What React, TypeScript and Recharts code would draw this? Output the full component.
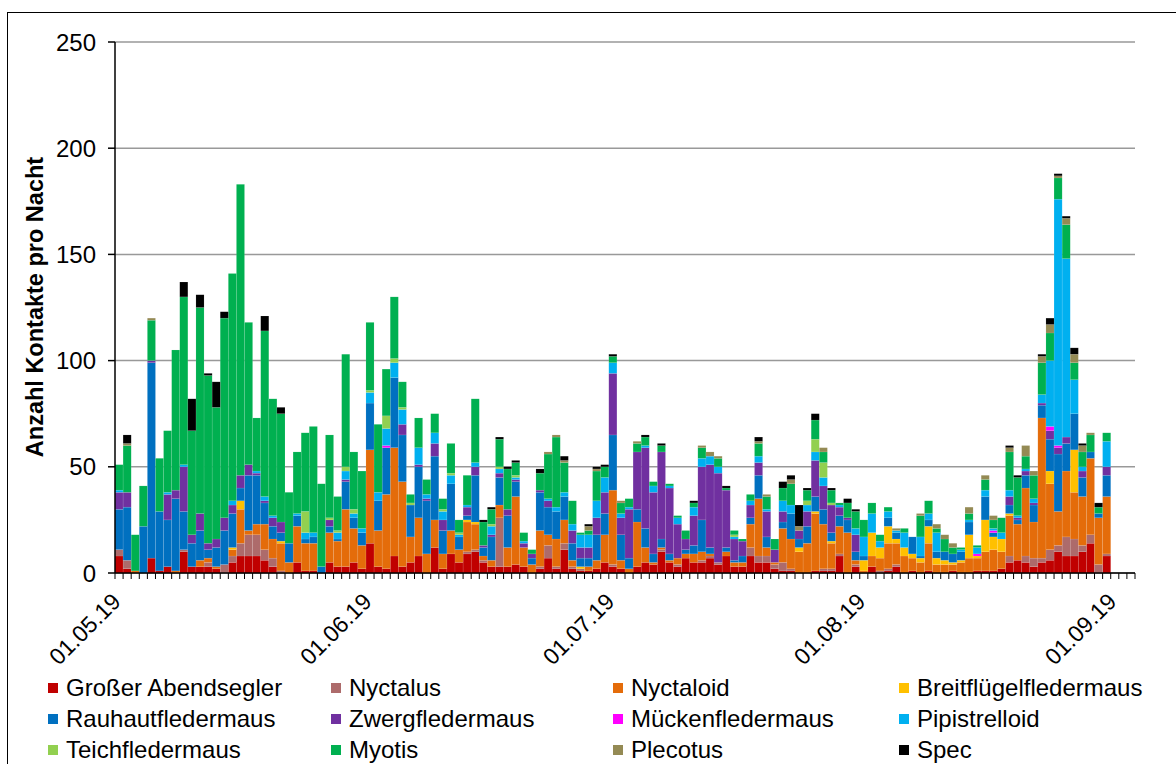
import { BarChart, Bar, XAxis, YAxis, CartesianGrid } from "recharts";

// categories: one bar per night, 01.05.19 – 03.09.19
const MONTHS: [string, number][] = [
  ["05", 31],
  ["06", 30],
  ["07", 31],
  ["08", 31],
  ["09", 3],
];
const DAYS: string[] = MONTHS.flatMap(([m, n]) =>
  Array.from({ length: n }, (_, i) => `${String(i + 1).padStart(2, "0")}.${m}.19`)
);
const MONTH_TICKS = ["01.05.19", "01.06.19", "01.07.19", "01.08.19", "01.09.19"];
const Y_TICKS = [0, 50, 100, 150, 200, 250];

// values per night, index 0 = 01.05.19
const abendsegler = [8,2,0,0,7,1,3,0,10,3, 3,3,2,0,5,8,8,8,6,3, 0,0,5,1,1,0,5,3,3,5, 2,14,3,2,8,3,5,8,0,12, 2,9,5,9,10,5,3,3,3,4, 3,0,2,7,2,11,2,1,1,2, 5,3,2,0,3,5,4,10,5,3, 7,5,5,7,4,8,3,3,8,5, 5,2,1,1,0,0,1,1,1,8, 0,3,0,3,0,1,3,0,1,0, 1,0,0,1,0,0,1,1,1,2, 5,6,5,3,5,6,10,8,8,10, 14,0,8];
const nyctalus = [3,4,0,0,0,0,0,0,1,0, 0,2,0,4,3,6,10,10,5,4, 1,0,0,0,0,0,0,0,0,0, 0,0,0,0,0,0,0,0,0,0, 0,0,0,1,1,1,0,23,0,0, 0,0,1,6,1,3,1,1,0,0, 0,1,0,0,0,0,0,1,0,1, 0,0,1,1,1,0,0,0,4,3, 3,2,4,1,0,0,0,1,1,1, 0,1,0,0,1,1,1,0,0,0, 0,0,0,0,0,0,0,0,0,0, 3,0,3,4,2,5,3,9,8,3, 4,4,1];
const nyctaloid = [0,0,1,0,0,0,0,1,0,0, 3,2,1,0,3,16,2,5,12,9, 13,5,17,13,13,0,14,12,27,16, 11,44,17,35,51,40,12,18,9,13, 7,11,6,14,12,2,3,6,9,32, 9,4,17,5,13,11,3,0,2,4, 13,35,4,2,21,7,1,1,1,3, 2,4,4,1,0,2,2,2,11,27, 4,1,16,14,10,14,27,21,12,13, 19,2,1,5,6,12,10,8,6,5, 13,4,4,3,5,7,6,9,10,8, 19,17,32,17,66,31,16,31,22,23, 36,22,27];
const breitfluegel = [0,0,0,0,0,0,0,0,0,0, 0,0,0,0,1,4,0,0,0,0, 1,0,0,0,0,0,0,0,0,0, 0,0,0,0,0,0,0,0,0,0, 0,0,0,1,1,0,0,0,0,0, 0,0,0,0,0,0,0,1,0,0, 0,0,0,0,0,0,0,0,0,0, 0,0,0,0,0,0,0,0,0,0, 0,0,0,0,2,0,1,0,1,0, 0,0,5,11,5,8,2,4,2,2, 8,3,2,1,1,11,1,15,6,6, 1,0,0,0,0,6,0,0,20,0, 0,0,0];
const rauhaut = [19,25,0,22,92,28,22,34,18,11, 14,4,9,16,16,6,26,23,10,6, 4,9,5,2,3,3,3,1,13,5, 6,22,14,22,33,22,15,24,25,30, 11,22,6,2,22,4,11,13,15,7, 0,3,18,13,13,11,8,4,4,12, 10,26,12,5,6,9,4,4,3,0, 2,4,15,3,0,2,1,3,3,11, 5,0,3,12,4,8,7,7,4,5, 6,4,2,0,0,4,3,0,8,1, 3,3,4,4,4,6,0,11,2,0, 4,2,6,8,6,15,27,13,17,9, 3,2,10];
const zwerg = [8,7,0,0,1,0,12,4,21,4, 8,3,4,6,4,6,5,1,1,4, 5,0,0,0,0,0,3,0,1,0, 0,0,0,0,0,5,0,1,1,6, 5,0,0,4,4,1,1,2,3,1, 2,2,1,3,0,0,6,5,5,8, 10,29,8,23,27,38,29,41,31,16, 5,14,25,39,42,27,10,7,6,6, 12,6,5,0,4,7,17,11,13,4, 1,8,0,0,0,0,0,0,0,0, 0,0,0,0,0,0,0,0,0,0, 4,1,2,1,1,4,3,3,0,3, 0,0,4];
const muecken = [0,0,0,0,0,0,0,0,0,0, 0,0,0,0,0,0,0,0,0,0, 0,0,0,0,0,0,0,0,0,0, 0,0,0,1,0,0,0,0,0,0, 0,0,0,0,0,0,0,0,0,0, 0,0,0,0,0,0,0,0,0,0, 0,0,0,0,0,0,0,0,0,0, 0,0,0,0,0,0,0,0,0,0, 0,0,0,0,0,0,0,0,0,0, 0,0,0,0,0,0,0,0,0,0, 0,0,0,0,0,0,1,0,1,0, 0,0,0,0,0,2,1,0,0,0, 0,0,0];
const pipistrelloid = [1,0,0,0,0,0,1,0,1,0, 0,0,0,0,2,0,0,1,2,1, 0,0,1,3,2,0,0,3,4,2, 2,5,4,8,7,7,0,8,2,5, 4,4,1,1,2,0,4,2,0,1, 1,0,0,1,2,2,3,6,6,8, 7,5,2,1,0,1,3,0,1,3, 0,4,4,4,3,0,1,0,2,3, 1,0,5,4,0,3,4,4,0,1, 0,3,9,9,3,3,1,7,0,9, 3,9,0,0,1,1,3,3,1,3, 3,1,1,2,4,31,116,84,16,2, 0,0,12];
const teich = [0,0,0,0,0,0,0,0,0,0, 0,0,0,0,0,0,0,0,0,0, 0,0,0,10,0,0,1,1,2,2, 0,1,0,6,2,1,1,0,0,0, 1,1,1,0,0,0,1,1,0,1, 0,0,0,0,0,0,0,0,0,0, 0,0,0,0,0,0,0,0,0,0, 0,0,0,0,0,0,1,0,0,0, 0,0,0,0,0,2,6,7,1,0, 0,0,0,0,0,0,0,0,0,0, 0,0,0,0,0,0,0,0,0,0, 0,0,0,0,0,0,0,0,0,0, 0,0,0];
const myotis = [12,22,17,19,19,25,29,66,79,49, 97,79,62,94,107,137,67,25,78,55, 51,24,29,37,50,39,39,16,53,27, 27,32,32,22,29,12,4,14,7,9, 5,14,6,14,30,11,7,13,19,6, 4,2,8,21,33,14,11,1,2,14, 5,3,5,4,4,4,2,3,1,1, 4,2,5,0,4,1,2,1,3,6, 6,5,6,10,0,5,9,5,6,1, 7,8,8,5,3,2,0,2,0,10, 6,2,6,3,1,3,1,5,4,7, 18,18,6,11,15,13,10,16,8,7, 8,3,4];
const plecotus = [0,1,0,0,1,0,0,0,0,0, 0,0,0,0,0,0,0,0,0,0, 0,0,0,0,0,0,0,0,0,0, 0,0,0,0,0,0,0,0,0,0, 0,0,0,0,0,0,0,0,0,0, 0,0,0,1,1,1,0,0,2,1, 0,0,1,0,1,0,0,0,0,0, 0,0,1,2,1,0,0,0,0,1, 1,0,0,2,2,0,0,2,0,0, 0,0,0,0,0,0,1,0,0,1, 0,2,2,2,0,3,0,2,2,0, 2,0,5,2,3,4,1,3,4,3, 1,0,0];
const spec = [0,4,0,0,0,0,0,0,7,15, 6,1,12,3,0,0,0,0,7,0, 3,0,0,0,0,0,0,0,0,0, 0,0,0,0,0,0,0,0,0,0, 0,0,0,0,0,1,1,1,1,1, 0,0,2,0,0,2,0,0,1,1, 1,1,0,0,0,1,0,1,0,0, 0,1,0,0,0,1,0,0,0,2, 0,0,3,2,10,1,3,0,1,0, 2,1,0,0,0,0,0,0,0,0, 0,0,0,0,0,0,0,0,0,0, 1,1,0,0,1,3,1,1,3,1, 0,2,0];

const SERIES = [
  { key: "abendsegler", name: "Großer Abendsegler", color: "#C00000", values: abendsegler },
  { key: "nyctalus", name: "Nyctalus", color: "#AD6B6B", values: nyctalus },
  { key: "nyctaloid", name: "Nyctaloid", color: "#E46C0A", values: nyctaloid },
  { key: "breitfluegel", name: "Breitflügelfledermaus", color: "#FFC000", values: breitfluegel },
  { key: "rauhaut", name: "Rauhautfledermaus", color: "#0070C0", values: rauhaut },
  { key: "zwerg", name: "Zwergfledermaus", color: "#7030A0", values: zwerg },
  { key: "muecken", name: "Mückenfledermaus", color: "#FF00FF", values: muecken },
  { key: "pipistrelloid", name: "Pipistrelloid", color: "#00B0F0", values: pipistrelloid },
  { key: "teich", name: "Teichfledermaus", color: "#92D050", values: teich },
  { key: "myotis", name: "Myotis", color: "#00B050", values: myotis },
  { key: "plecotus", name: "Plecotus", color: "#948A54", values: plecotus },
  { key: "spec", name: "Spec", color: "#000000", values: spec },
];

const data = DAYS.map((day, i) => {
  const row: Record<string, string | number> = { day };
  SERIES.forEach((s) => {
    row[s.key] = s.values[i] ?? 0;
  });
  return row;
});

const FONT = '"Liberation Sans", Arial, sans-serif';
const W = 1176;
const H = 764;
const PLOT_LEFT = 115;
const PLOT_RIGHT = 1135;
const BAND = (PLOT_RIGHT - PLOT_LEFT) / DAYS.length;

// recharts floors the bar width to whole pixels; stretch each segment to the full band
function BandRect(props: any) {
  const { x, y, height, fill } = props;
  if (!height || height <= 0) return <g />;
  return (
    <rect
      x={x}
      y={y}
      width={BAND}
      height={height}
      fill={fill}
      stroke="#ffffff"
      strokeOpacity={0.18}
      strokeWidth={0.5}
    />
  );
}

function DayTick({ x, y, payload, index }: any) {
  const bx = x - BAND / 2;
  const isMonth = MONTH_TICKS.includes(payload.value);
  const tx = bx + 7;
  const ty = y + 30;
  return (
    <g>
      <line x1={bx} y1={y} x2={bx} y2={y + 6} stroke="#000" strokeWidth={1} />
      {index === DAYS.length - 1 && (
        <line x1={x + BAND / 2} y1={y} x2={x + BAND / 2} y2={y + 6} stroke="#000" strokeWidth={1} />
      )}
      {isMonth && (
        <text
          x={tx}
          y={ty}
          transform={`rotate(-45 ${tx} ${ty})`}
          textAnchor="end"
          fontSize={23}
          fontFamily={FONT}
          fill="#000"
        >
          {payload.value}
        </text>
      )}
    </g>
  );
}

function YTitle() {
  return (
    <text
      x={35}
      y={307}
      transform="rotate(-90 35 307)"
      textAnchor="middle"
      dominantBaseline="central"
      fontSize={23.5}
      fontWeight="bold"
      fontFamily={FONT}
      fill="#000"
    >
      Anzahl Kontakte pro Nacht
    </text>
  );
}

const LEGEND_X = [66, 349, 631, 917];
const LEGEND_Y = [688, 719, 750];

export default function App() {
  return (
    <div
      style={{
        position: "fixed",
        left: 0,
        top: 0,
        width: W,
        height: H,
        overflow: "hidden",
        background: "#fff",
        fontFamily: FONT,
      }}
    >
      <div
        style={{
          position: "absolute",
          left: 7,
          top: 12,
          right: 0,
          bottom: 0,
          borderLeft: "1.5px solid #000",
          borderTop: "1.5px solid #000",
        }}
      />
      <div style={{ position: "absolute", left: 0, top: 0 }}>
        <BarChart
          width={W}
          height={H}
          data={data}
          margin={{ top: 42, right: W - PLOT_RIGHT, left: 0, bottom: 0 }}
          barCategoryGap={0}
          barGap={0}
        >
          <CartesianGrid vertical={false} stroke="#999" strokeWidth={1.5} />
          <XAxis
            dataKey="day"
            interval={0}
            height={H - 573}
            tick={<DayTick />}
            tickLine={false}
            tickSize={0}
            tickMargin={0}
            axisLine={{ stroke: "#000", strokeWidth: 1.5 }}
          />
          <YAxis
            width={PLOT_LEFT}
            domain={[0, 250]}
            ticks={Y_TICKS}
            interval={0}
            tickSize={7}
            tickMargin={12}
            tick={{ fontSize: 24, fill: "#000", fontFamily: FONT }}
            tickLine={{ stroke: "#000", strokeWidth: 1.5 }}
            axisLine={{ stroke: "#000", strokeWidth: 1.5 }}
            label={<YTitle />}
          />
          {SERIES.map((s) => (
            <Bar
              key={s.key}
              dataKey={s.key}
              name={s.name}
              stackId="a"
              fill={s.color}
              shape={<BandRect />}
              isAnimationActive={false}
            />
          ))}
        </BarChart>
      </div>
      {SERIES.map((s, i) => {
        const lx = LEGEND_X[i % 4];
        const ly = LEGEND_Y[Math.floor(i / 4)];
        return (
          <div key={s.key}>
            <div
              style={{
                position: "absolute",
                left: lx - 18,
                top: ly - 5,
                width: 10,
                height: 10,
                background: s.color,
              }}
            />
            <div
              style={{
                position: "absolute",
                left: lx,
                top: ly - 14,
                fontSize: 24,
                lineHeight: "28px",
                whiteSpace: "nowrap",
                color: "#000",
              }}
            >
              {s.name}
            </div>
          </div>
        );
      })}
    </div>
  );
}
